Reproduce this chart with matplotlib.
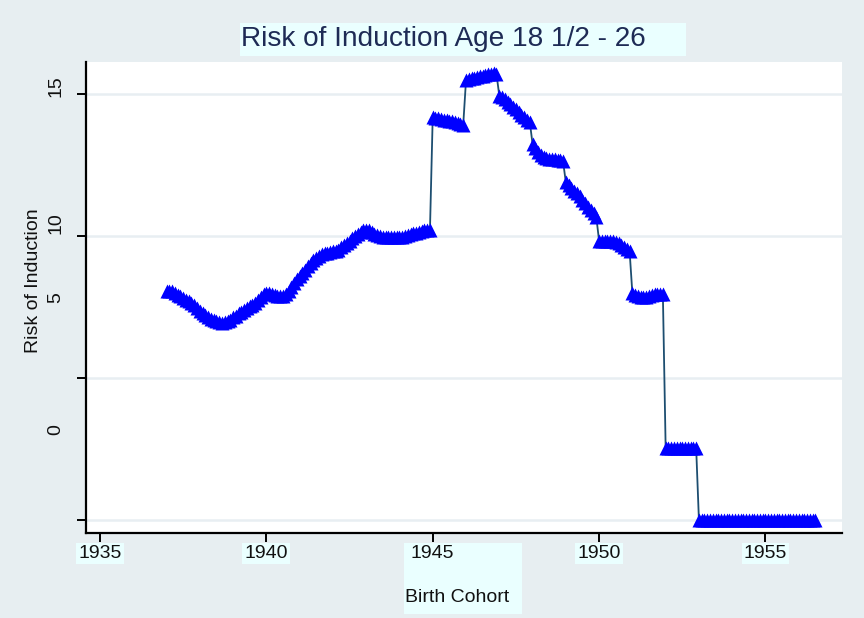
import numpy as np
import matplotlib
matplotlib.use("Agg")
import matplotlib.pyplot as plt
from matplotlib.patches import Rectangle

# ---- data (monthly birth cohorts, starting Jan 1937) ----
start_year = 1937
risk_1937 = [8.05, 8.07, 8.05, 7.98, 7.94, 7.88, 7.82, 7.76, 7.70, 7.64, 7.57, 7.47]
risk_1938 = [7.36, 7.30, 7.22, 7.15, 7.09, 7.04, 6.99, 6.96, 6.95, 6.96, 7.00, 7.06]
risk_1939 = [7.14, 7.20, 7.28, 7.33, 7.38, 7.45, 7.52, 7.58, 7.65, 7.75, 7.86, 7.95]
risk_1940 = [8.00, 7.98, 7.95, 7.93, 7.90, 7.89, 7.90, 7.95, 8.07, 8.20, 8.35, 8.50]
risk_1941 = [8.60, 8.70, 8.82, 8.95, 9.06, 9.14, 9.22, 9.30, 9.35, 9.39, 9.42, 9.45]
risk_1942 = [9.47, 9.49, 9.52, 9.60, 9.67, 9.75, 9.83, 9.92, 10.00, 10.08, 10.15, 10.20]
risk_1943 = [10.22, 10.20, 10.14, 10.08, 10.02, 9.99, 9.97, 9.96, 9.96, 9.96, 9.96, 9.96]
risk_1944 = [9.97, 9.98, 10.00, 10.03, 10.06, 10.09, 10.12, 10.15, 10.18, 10.20, 10.21, 10.20]
risk_1945 = [14.20, 14.17, 14.15, 14.12, 14.10, 14.08, 14.06, 14.04, 14.01, 13.98, 13.95, 13.92]
risk_1946 = [15.48, 15.52, 15.55, 15.58, 15.60, 15.63, 15.65, 15.68, 15.70, 15.72, 15.73, 15.70]
risk_1947 = [14.95, 14.90, 14.82, 14.73, 14.64, 14.55, 14.46, 14.37, 14.28, 14.19, 14.10, 14.02]
risk_1948 = [13.25, 13.10, 12.97, 12.85, 12.78, 12.74, 12.72, 12.71, 12.70, 12.69, 12.67, 12.63]
risk_1949 = [11.90, 11.80, 11.70, 11.60, 11.50, 11.40, 11.28, 11.16, 11.04, 10.92, 10.80, 10.66]
risk_1950 = [9.83, 9.83, 9.83, 9.83, 9.83, 9.82, 9.80, 9.75, 9.68, 9.60, 9.53, 9.47]
risk_1951 = [7.98, 7.94, 7.88, 7.85, 7.84, 7.85, 7.88, 7.92, 7.95, 7.96, 7.96, 7.95]
risk_1952 = [2.55, 2.55, 2.55, 2.55, 2.55, 2.55, 2.55, 2.55, 2.55, 2.55, 2.55, 2.55]
risk_1953_1956 = [0.0] * 43

risk = (risk_1937 + risk_1938 + risk_1939 + risk_1940 + risk_1941 + risk_1942 +
        risk_1943 + risk_1944 + risk_1945 + risk_1946 + risk_1947 + risk_1948 +
        risk_1949 + risk_1950 + risk_1951 + risk_1952 + risk_1953_1956)
cohort = start_year + np.arange(len(risk)) / 12.0

xticks = [1935, 1940, 1945, 1950, 1955]
yticks = [0, 5, 10, 15]
ytick_labels = ["0", "5", "10", "15"]
title = "Risk of Induction Age 18 1/2 - 26"
xlabel = "Birth Cohort"
ylabel = "Risk of Induction"

# ---- styling ----
W, H = 864, 618
BG = "#e7eef1"
BOX = "#eaffff"
FS = 14
plt.rcParams['font.family'] = ['Liberation Sans', 'DejaVu Sans']

fig = plt.figure(figsize=(W / 100, H / 100), dpi=100, facecolor=BG)

def fx(px):
    return px / W

def fy(py):
    return 1 - py / H

# boxes behind texts (drawn first)
fig.patches.append(Rectangle((fx(404), fy(614)), fx(522) - fx(404),
                             fy(543) - fy(614), transform=fig.transFigure,
                             facecolor=BOX, edgecolor="none", zorder=-5))
fig.patches.append(Rectangle((fx(240), fy(56)), fx(686) - fx(240),
                             fy(23) - fy(56), transform=fig.transFigure,
                             facecolor=BOX, edgecolor="none", zorder=-5))

ax = fig.add_axes([fx(86), fy(533), fx(842) - fx(86), fy(62) - fy(533)])
ax.set_facecolor("white")

ax.plot(cohort, risk, color="#1d4e70", lw=1.3, zorder=2)
ax.plot(cohort, risk, ls="none", marker="^", ms=9.6, color="#0000ff",
        mec="none", zorder=3)

ax.set_xlim(1934.58, 1957.3)
ax.set_ylim(-0.46, 16.13)

for s in ["top", "right"]:
    ax.spines[s].set_visible(False)
for s in ["left", "bottom"]:
    ax.spines[s].set_linewidth(1.6)
    ax.spines[s].set_color("black")

ax.set_yticks(yticks)
ax.set_yticklabels([""] * len(yticks))
ax.yaxis.grid(True, color="#e8eef2", lw=1.8)
ax.set_axisbelow(True)
ax.tick_params(axis="y", length=6.5, width=1.4, color="black")

ax.set_xticks(xticks)
ax.set_xticklabels([str(t) for t in xticks], fontsize=FS, color="#111111")
ax.tick_params(axis="x", length=6.5, width=1.4, color="black", pad=2)
for lab in ax.get_xticklabels():
    lab.set_bbox(dict(facecolor=BOX, edgecolor="none", pad=1.5))

# y tick labels (placed as in the reference, rotated)
ylab_py = {"15": 86, "10": 223, "5": 298, "0": 430}
for lab in ytick_labels:
    fig.text(fx(56), fy(ylab_py[lab]), lab, rotation=90, ha="center",
             va="center", fontsize=FS, color="#111111")

# y axis title
fig.text(fx(33), fy(281), ylabel, rotation=90, ha="center", va="center",
         fontsize=FS, color="#111111")

# x axis title
fig.text(fx(457), fy(597), xlabel, ha="center", va="center",
         fontsize=FS, color="#111111")

# title
fig.text(fx(241), fy(39), title, ha="left", va="center",
         fontsize=20.2, color="#1e2b55")

fig.savefig("out.png", dpi=100, facecolor=BG)
